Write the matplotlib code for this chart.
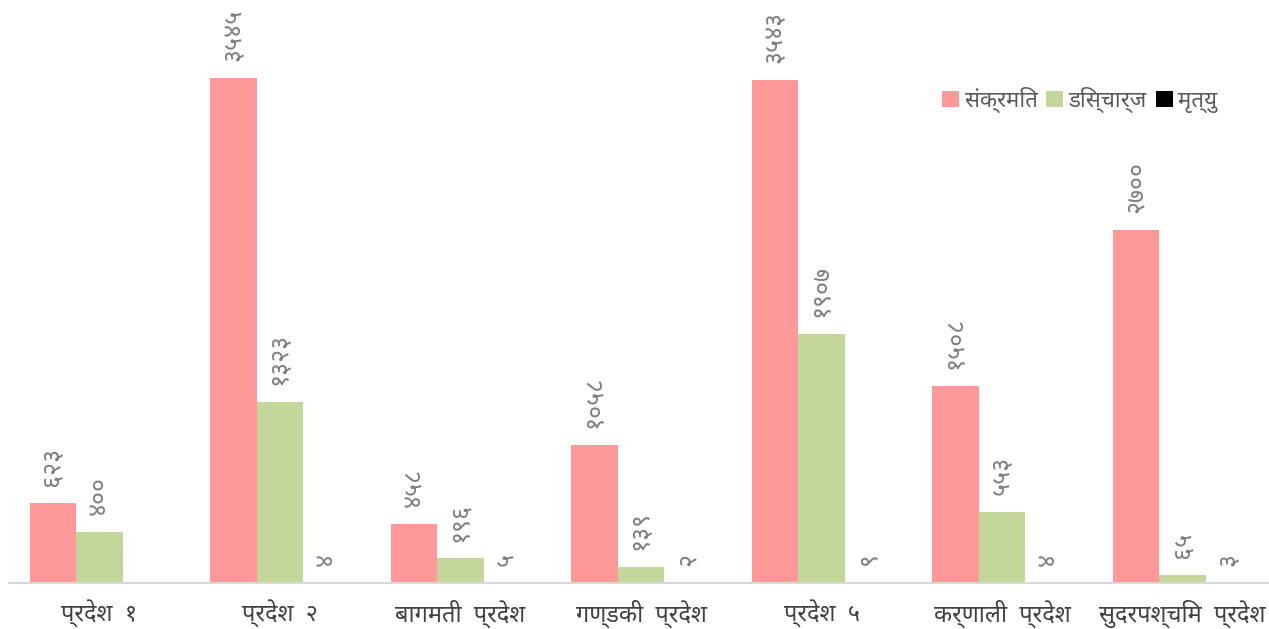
import matplotlib
matplotlib.use("Agg")
import matplotlib.pyplot as plt
import numpy as np
from matplotlib import font_manager

# pick a Devanagari-capable family that is installed
names = {f.name for f in font_manager.fontManager.ttflist}
fams = [f for f in ("Noto Sans Devanagari", "Lohit Devanagari", "Mukta",
                    "Annapurna SIL", "FreeSans") if f in names]
plt.rcParams["font.family"] = fams + ["DejaVu Sans"]

# ---- data (bar heights, labels as printed) ----
provinces = ["प्रदेश  १", "प्रदेश  २", "बागमती  प्रदेश", "गण्डकी  प्रदेश",
             "प्रदेश  ५", "कर्णाली  प्रदेश", "सुदरपश्चिम  प्रदेश"]
series = ["संक्रमित", "डिस्चार्ज", "मृत्यु"]
infected = [561, 3545, 414, 968, 3530, 1382, 2477]
discharged = [358, 1272, 173, 112, 1747, 500, 56]
deaths = [0, 4, 5, 2, 9, 4, 3]
infected_lbl = ["६२३", "३५४५", "४५८", "१०५८", "३५४३", "१५०८", "२७००"]
discharged_lbl = ["४००", "१३२३", "१९६", "१३९", "१९०७", "५५३", "६५"]
deaths_lbl = ["", "४", "५", "२", "९", "४", "३"]
colors = ["#ff9999", "#c4d79b", "#000000"]

W, H = 1269, 629
fig = plt.figure(figsize=(W / 100, H / 100), dpi=100)
ax = fig.add_axes([9 / W, 46 / H, 1264 / W, 583 / H])

x = np.arange(len(provinces))
bw = 0.2576
vals = [infected, discharged, deaths]
lbls = [infected_lbl, discharged_lbl, deaths_lbl]
for k in range(3):
    bars = ax.bar(x + (k - 1) * bw, vals[k], bw, color=colors[k],
                  label=series[k], linewidth=0)
    for b, t in zip(bars, lbls[k]):
        if not t:
            continue
        ax.annotate(t, (b.get_x() + b.get_width() / 2, b.get_height()),
                    xytext=(0, 12), textcoords="offset points",
                    rotation=90, ha="center", va="bottom",
                    fontsize=18, color="#7f7f7f")

ax.set_xlim(-0.5, 6.5)
ax.set_ylim(0, 4091)
ax.set_xticks(x)
ax.set_xticklabels(provinces, fontsize=17, color="#404040")
ax.tick_params(axis="x", length=0, pad=12)
ax.set_yticks([])
for s in ("top", "right", "left"):
    ax.spines[s].set_visible(False)
ax.spines["bottom"].set_color("#d9d9d9")
ax.spines["bottom"].set_linewidth(1.5)

ax.legend(loc="upper left", bbox_to_anchor=(926 / W - 9 / W, 1 - 67 / 583),
          bbox_transform=ax.transAxes, ncol=3, frameon=False, fontsize=16,
          handlelength=0.75, handleheight=0.75, handletextpad=0.25,
          columnspacing=0.4, labelcolor="#595959")

fig.savefig("out.png", dpi=100)
